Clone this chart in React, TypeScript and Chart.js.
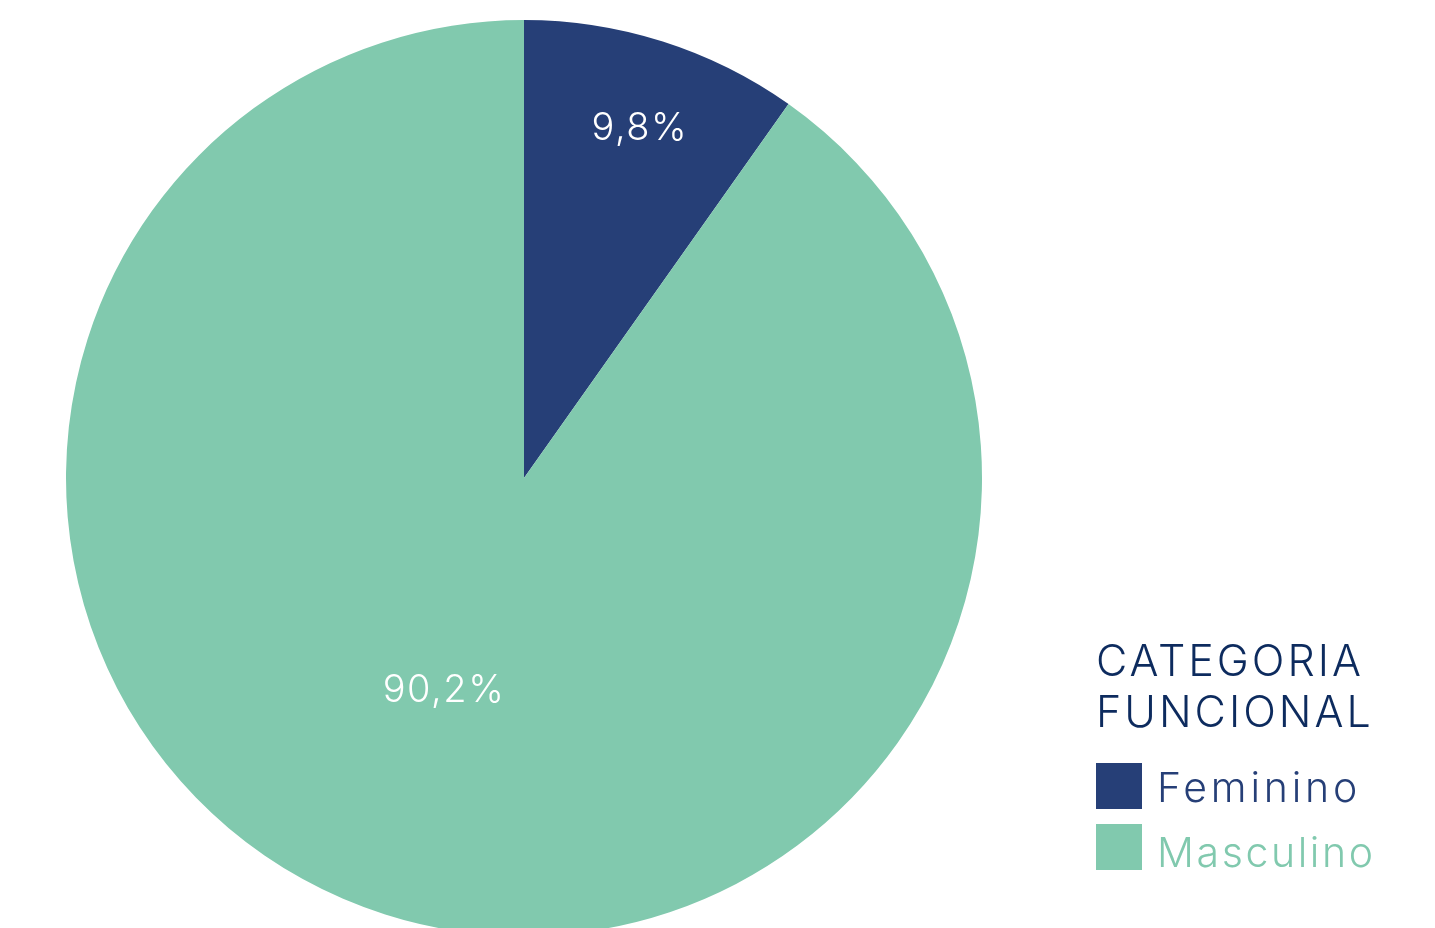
import React, { useEffect, useRef } from "react";
import { Chart, registerables } from "chart.js";

Chart.register(...registerables);

const categories = ["Feminino", "Masculino"];
const values = [9.8, 90.2];
const valueLabels = ["9,8%", "90,2%"];
const colors = ["#263F77", "#81C9AE"];
const legendTitle = ["CATEGORIA", "FUNCIONAL"];

const FONT = "Inter, Lato, sans-serif";

const labelPlugin = {
  id: "sliceLabels",
  afterDatasetsDraw(chart: any, _args: any, opts: any) {
    const meta = chart.getDatasetMeta(0);
    const ctx = chart.ctx;
    ctx.save();
    ctx.fillStyle = "#ffffff";
    ctx.font = `300 38px ${FONT}`;
    (ctx as any).letterSpacing = "1.5px";
    ctx.textAlign = "center";
    ctx.textBaseline = "middle";
    meta.data.forEach((arc: any, i: number) => {
      const p = arc.getProps(["x", "y", "startAngle", "endAngle", "outerRadius"], true);
      const frac = opts.fractions[i];
      const mid = (p.startAngle + p.endAngle) / 2 + (opts.angleOffsets[i] * Math.PI) / 180;
      const r = p.outerRadius * frac;
      ctx.fillText(valueLabels[i], p.x + Math.cos(mid) * r + 1, p.y + Math.sin(mid) * r + 1);
    });
    ctx.restore();
  },
};

export default function App() {
  const ref = useRef<HTMLCanvasElement>(null);
  useEffect(() => {
    if (!ref.current) return;
    const chart = new Chart(ref.current, {
      type: "pie",
      data: {
        labels: categories,
        datasets: [
          {
            data: values,
            backgroundColor: colors,
            borderWidth: 0,
          },
        ],
      },
      options: {
        animation: false,
        responsive: true,
        maintainAspectRatio: false,
        layout: { padding: { left: 58, top: 12, right: 445, bottom: 0 } },
        plugins: {
          legend: { display: false },
          tooltip: { enabled: false },
          sliceLabels: { fractions: [0.805, 0.495], angleOffsets: [0.5, 3.3] },
        } as any,
      },
      plugins: [labelPlugin],
    });
    return () => chart.destroy();
  }, []);

  const lineStyle: React.CSSProperties = {
    position: "absolute",
    whiteSpace: "nowrap",
    fontFamily: FONT,
    fontWeight: 300,
    lineHeight: 1,
    margin: 0,
  };

  return (
    <div style={{ position: "relative", width: 1419, height: 928 }}>
      <canvas ref={ref} />
      <div style={{ ...lineStyle, left: 1088, top: 639 - 8, fontSize: 43, color: "#0D2B5E", letterSpacing: 3 }}>
        {legendTitle[0]}
      </div>
      <div style={{ ...lineStyle, left: 1088, top: 690 - 8, fontSize: 43, color: "#0D2B5E", letterSpacing: 3 }}>
        {legendTitle[1]}
      </div>
      {categories.map((c, i) => (
        <React.Fragment key={c}>
          <div
            style={{
              position: "absolute",
              left: 1088,
              top: (i === 0 ? 763 : 824) - 8,
              width: 46,
              height: 46,
              background: colors[i],
            }}
          />
          <div
            style={{
              ...lineStyle,
              left: 1149,
              top: (i === 0 ? 767 : 832) - 8,
              fontSize: 41,
              color: colors[i],
              letterSpacing: i === 0 ? 3.8 : 2.6,
            }}
          >
            {c}
          </div>
        </React.Fragment>
      ))}
    </div>
  );
}
